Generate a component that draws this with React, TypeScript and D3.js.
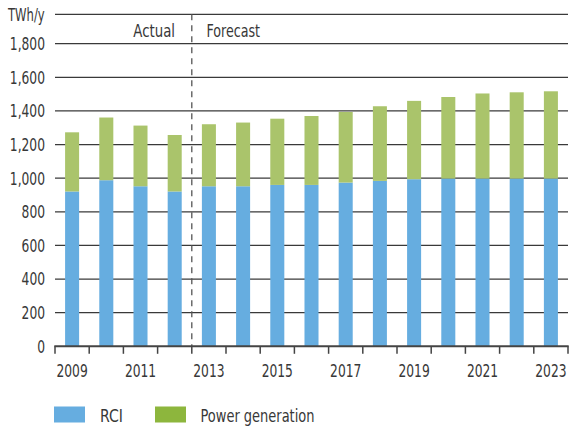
import React from "react";
import * as d3 from "d3";

const years = [2009, 2010, 2011, 2012, 2013, 2014, 2015, 2016, 2017, 2018, 2019, 2020, 2021, 2022, 2023];
const rci = [921, 988, 952, 921, 952, 952, 960, 960, 974, 984, 994, 998, 998, 998, 998];
const total = [1273, 1361, 1313, 1257, 1321, 1331, 1354, 1370, 1394, 1428, 1460, 1483, 1504, 1511, 1517];
const powerGen = total.map((t, i) => t - rci[i]);
const yTicks = [0, 200, 400, 600, 800, 1000, 1200, 1400, 1600, 1800];
const xLabelYears = [2009, 2011, 2013, 2015, 2017, 2019, 2021, 2023];
const seriesNames = ["RCI", "Power generation"];
const forecastStart = 2013;

const W = 570;
const H = 430;
const left = 55;
const right = 568;
const bottom = 346.3;
const top = 14.3;
const yMax = 1975;
const FONT = "'DejaVu Sans Condensed', 'DejaVu Sans', sans-serif";
const TEXT = "#383838";
const BLUE = "#66ade0";
const GREEN_BAR = "#aac46b";
const GREEN_LEG = "#8db63d";

type TProps = { x: number; y: number; size: number; sx: number; anchor?: string; children: React.ReactNode };
function T({ x, y, size, sx, anchor = "start", children }: TProps) {
  return (
    <text transform={`translate(${x},${y}) scale(${sx},1)`} textAnchor={anchor} fontSize={size} fill={TEXT}>
      {children}
    </text>
  );
}

export default function App() {
  const x = d3.scaleBand<number>().domain(years).range([left, right]).paddingInner(0.59).paddingOuter(0.295);
  const y = d3.scaleLinear().domain([0, yMax]).range([bottom, top]);
  const step = x.step();
  const gap = (step - x.bandwidth()) / 2;
  const boundaries = years.map((yr) => (x(yr) as number) - gap).concat([right]);
  const dashX = (x(forecastStart) as number) - gap;

  return (
    <svg width={W} height={H} style={{ position: "absolute", left: 0, top: 0 }} fontFamily={FONT}>
      {yTicks.slice(1).map((t) => (
        <line key={t} x1={left} x2={right} y1={y(t)} y2={y(t)} stroke="#3a3a3a" strokeWidth={1.3} />
      ))}
      <line x1={left} x2={right} y1={y(yMax)} y2={y(yMax)} stroke="#3a3a3a" strokeWidth={1.3} />
      {years.map((yr, i) => (
        <g key={yr}>
          <rect x={x(yr)} width={x.bandwidth()} y={y(rci[i])} height={y(0) - y(rci[i])} fill={BLUE} />
          <rect x={x(yr)} width={x.bandwidth()} y={y(rci[i] + powerGen[i])} height={y(rci[i]) - y(rci[i] + powerGen[i])} fill={GREEN_BAR} />
        </g>
      ))}
      <line x1={dashX} x2={dashX} y1={y(yMax)} y2={bottom} stroke="#555" strokeWidth={1.3} strokeDasharray="6,5" />
      <line x1={left - 0.7} x2={right + 0.7} y1={bottom} y2={bottom} stroke="#444" strokeWidth={2} />
      {boundaries.map((b, i) => (
        <line key={i} x1={b} x2={b} y1={bottom} y2={bottom + 7.5} stroke="#444" strokeWidth={1.5} />
      ))}
      {xLabelYears.map((yr) => (
        <T key={yr} x={(x(yr) as number) + x.bandwidth() / 2} y={377.3} size={17.5} sx={0.78} anchor="middle">
          {yr}
        </T>
      ))}
      {yTicks.map((t) => (
        <T key={t} x={45} y={y(t) + 6.4} size={17.5} sx={0.78} anchor="end">
          {d3.format(",")(t)}
        </T>
      ))}
      <T x={8} y={21} size={17} sx={0.76}>TWh/y</T>
      <T x={175} y={36.5} size={17} sx={0.87} anchor="end">Actual</T>
      <T x={206.5} y={36.5} size={17} sx={0.83}>Forecast</T>
      <rect x={54} y={406.5} width={31} height={16} fill={BLUE} />
      <T x={100} y={422.3} size={17} sx={0.92}>{seriesNames[0]}</T>
      <rect x={155} y={406.5} width={31} height={16} fill={GREEN_LEG} />
      <T x={200.5} y={422.3} size={17} sx={0.85}>{seriesNames[1]}</T>
    </svg>
  );
}
